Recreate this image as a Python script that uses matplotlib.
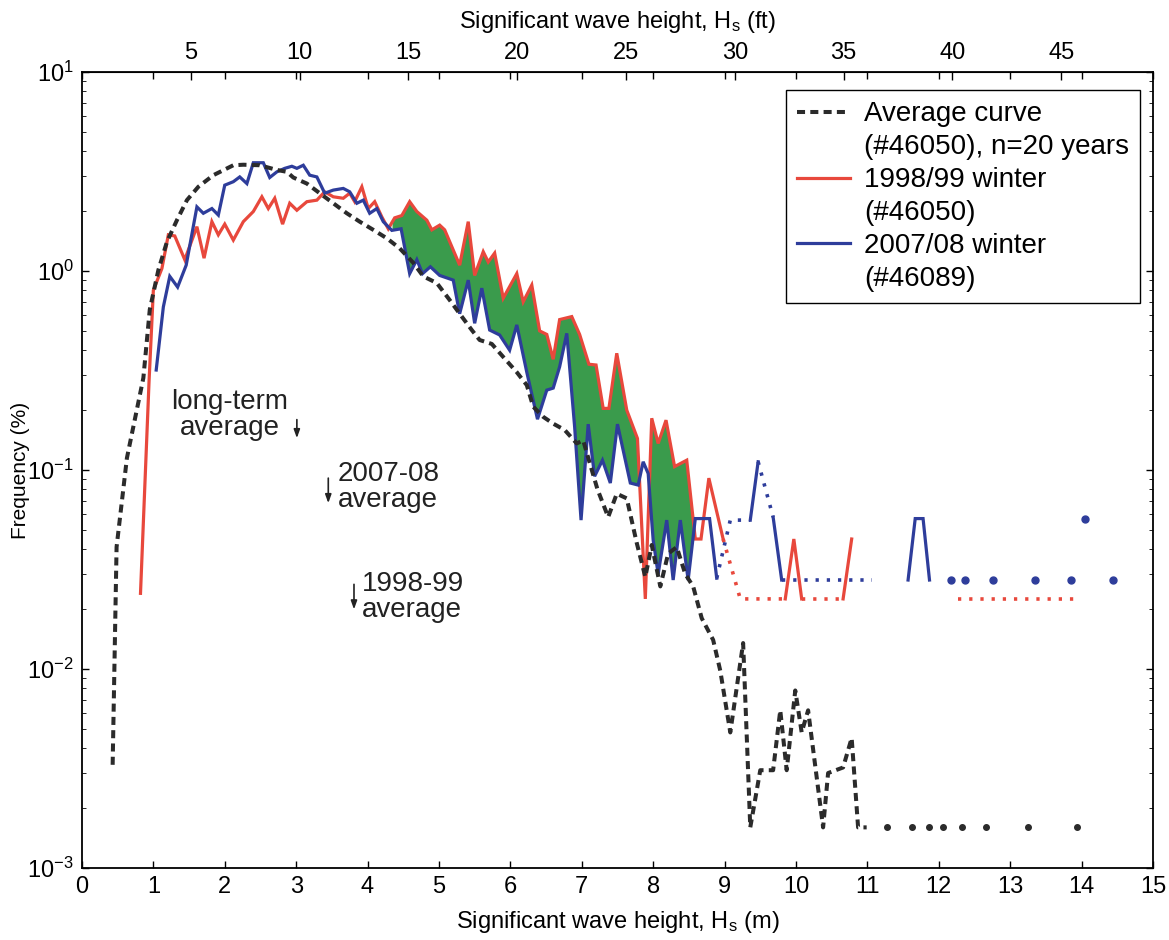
# Wave height frequency: 20-yr average vs two winters, buoys #46050 / #46089
import matplotlib

matplotlib.use("Agg")
import matplotlib.pyplot as plt
import numpy as np
from matplotlib.lines import Line2D

# ---- data (Hs in m, frequency in %) ----
avg_x = [0.43, 0.485, 0.63, 0.86, 0.95, 1.07, 1.19, 1.33, 1.47, 1.63, 1.84,
         2.12, 2.26, 2.49, 2.73, 2.87, 2.96, 3.15, 3.33, 3.52, 3.71, 3.89,
         4.08, 4.27, 4.45, 4.64, 4.78, 4.97, 5.15, 5.32, 5.46, 5.57, 5.74,
         5.90, 6.09, 6.23, 6.32, 6.46, 6.60, 6.76, 6.93, 7.02, 7.10, 7.22,
         7.37, 7.49, 7.63, 7.77, 7.89, 7.98, 8.10, 8.21, 8.33, 8.45, 8.56,
         8.68, 8.84, 8.94, 9.08, 9.26, 9.36, 9.50, 9.68, 9.78, 9.87, 9.99,
         10.08, 10.17, 10.38, 10.45, 10.66, 10.78, 10.87, 10.99]
avg_y = [0.0033, 0.041, 0.115, 0.29, 0.64, 1.01, 1.40, 1.80, 2.27, 2.65, 3.03,
         3.40, 3.42, 3.40, 3.22, 3.15, 2.95, 2.75, 2.46, 2.19, 1.95, 1.77,
         1.61, 1.46, 1.30, 1.10, 0.94, 0.87, 0.715, 0.59, 0.505, 0.45, 0.43,
         0.37, 0.31, 0.267, 0.208, 0.185, 0.171, 0.159, 0.136, 0.141, 0.112, 0.08,
         0.058, 0.076, 0.072, 0.043, 0.029, 0.042, 0.026, 0.038, 0.041, 0.030, 0.026,
         0.018, 0.014, 0.0098, 0.0048, 0.0135, 0.0016, 0.0031, 0.0031, 0.0062, 0.0031, 0.0078,
         0.0048, 0.0062, 0.0016, 0.0030, 0.0032, 0.0045, 0.0016, 0.0016]
avg_dot_x = [11.27, 11.62, 11.87, 12.06, 12.32, 12.66, 13.25, 13.94]
avg_dot_y = [0.0016] * 8

red_x = [0.82, 0.94, 1.00, 1.12, 1.21, 1.30, 1.44, 1.61, 1.71, 1.82, 1.91,
         2.00, 2.12, 2.26, 2.40, 2.52, 2.61, 2.70, 2.81, 2.91, 3.01, 3.15,
         3.29, 3.40, 3.52, 3.66, 3.75, 3.82, 3.92, 4.01, 4.10, 4.20, 4.29,
         4.38, 4.48, 4.59, 4.69, 4.83, 4.90, 5.01, 5.08, 5.29, 5.41, 5.50,
         5.62, 5.69, 5.78, 5.90, 6.09, 6.18, 6.30, 6.41, 6.51, 6.60, 6.69,
         6.86, 6.97, 7.10, 7.20, 7.30, 7.38, 7.49, 7.63, 7.78, 7.89, 7.98,
         8.07, 8.18, 8.30, 8.47, 8.59, 8.67, 8.78, 8.98]
red_y = [0.024, 0.28, 0.80, 1.03, 1.52, 1.50, 1.14, 1.67, 1.16, 1.77, 1.52,
         1.72, 1.43, 1.77, 1.99, 2.36, 2.06, 2.32, 1.72, 2.19, 2.02, 2.23,
         2.27, 2.50, 2.36, 2.32, 2.46, 2.23, 2.65, 2.06, 2.23, 1.87, 1.63,
         1.85, 1.90, 2.23, 1.99, 1.80, 1.61, 1.70, 1.61, 1.07, 1.77, 0.95,
         1.25, 1.11, 1.23, 0.73, 0.97, 0.70, 0.85, 0.50, 0.48, 0.36, 0.57,
         0.59, 0.48, 0.34, 0.337, 0.204, 0.204, 0.386, 0.20, 0.144, 0.0225, 0.182,
         0.136, 0.178, 0.104, 0.112, 0.045, 0.045, 0.091, 0.045]
red_seg_x = [[9.85, 9.97, 10.08], [10.66, 10.78]]
red_seg_y = [[0.0225, 0.045, 0.0225], [0.0225, 0.045]]
red_gap_x = [[8.98, 9.22, 9.85], [10.08, 10.66], [12.27, 13.91]]
red_gap_y = [[0.045, 0.0225, 0.0225], [0.0225, 0.0225], [0.0225, 0.0225]]

blue_x = [1.04, 1.14, 1.23, 1.34, 1.46, 1.61, 1.70, 1.82, 1.91, 2.00, 2.12,
          2.21, 2.31, 2.40, 2.54, 2.63, 2.73, 2.84, 2.94, 3.01, 3.10, 3.19,
          3.29, 3.40, 3.52, 3.66, 3.75, 3.85, 3.94, 4.03, 4.13, 4.22, 4.34,
          4.47, 4.59, 4.69, 4.77, 4.88, 5.01, 5.20, 5.29, 5.41, 5.50, 5.60,
          5.71, 5.85, 5.99, 6.09, 6.23, 6.38, 6.51, 6.60, 6.69, 6.79, 6.90,
          6.99, 7.09, 7.18, 7.29, 7.40, 7.50, 7.68, 7.79, 7.86, 7.93, 8.00,
          8.07, 8.19, 8.28, 8.38, 8.49, 8.59, 8.79, 8.89]
blue_y = [0.318, 0.66, 0.94, 0.83, 1.07, 2.10, 1.95, 2.06, 1.91, 2.70, 2.81,
          2.97, 2.75, 3.50, 3.50, 2.95, 3.15, 3.28, 3.36, 3.28, 3.40, 3.03,
          2.97, 2.46, 2.55, 2.60, 2.50, 2.19, 2.27, 1.95, 2.06, 1.77, 1.60,
          1.63, 0.97, 1.14, 0.97, 1.05, 0.95, 0.90, 0.61, 0.90, 0.546, 0.82,
          0.505, 0.477, 0.40, 0.536, 0.31, 0.18, 0.252, 0.258, 0.33, 0.486, 0.165,
          0.056, 0.17, 0.093, 0.112, 0.086, 0.17, 0.086, 0.084, 0.110, 0.096, 0.0445,
          0.030, 0.056, 0.028, 0.056, 0.028, 0.057, 0.057, 0.0286]
blue_seg_x = [[9.36, 9.47], [9.68, 9.80], [11.57, 11.67, 11.78, 11.87]]
blue_seg_y = [[0.056, 0.110], [0.058, 0.028], [0.028, 0.057, 0.057, 0.028]]
blue_gap_x = [[8.89, 9.08, 9.36], [9.47, 9.68], [9.80, 11.06]]
blue_gap_y = [[0.0286, 0.056, 0.056], [0.110, 0.058], [0.028, 0.028]]
blue_dot_x = [12.17, 12.37, 12.76, 13.35, 13.85, 14.05, 14.44]
blue_dot_y = [0.028, 0.028, 0.028, 0.028, 0.028, 0.057, 0.028]

FILL_RANGE = (4.35, 8.6)

BLACK = "#2b2b2b"
RED = "#e8483c"
BLUE = "#2e3d9b"
GREEN = "#3a9b4c"

NARROW = ["Liberation Sans Narrow", "Liberation Sans", "DejaVu Sans"]
REGULAR = ["Liberation Sans", "DejaVu Sans"]

plt.rcParams["font.family"] = NARROW
plt.rcParams["mathtext.fontset"] = "custom"
plt.rcParams["mathtext.rm"] = "Liberation Sans"
plt.rcParams["mathtext.it"] = "Liberation Sans"
plt.rcParams["mathtext.bf"] = "Liberation Sans"

fig = plt.figure(figsize=(11.69, 9.40), dpi=100)
ax = fig.add_axes([0.0701, 0.0766, 0.9162, 0.8468])
ax.set_yscale("log")
ax.set_xlim(0, 15)
ax.set_ylim(1e-3, 10)

# green band where the 1998/99 winter is above 2007/08
xg = np.linspace(FILL_RANGE[0], FILL_RANGE[1], 2000)
rg = 10 ** np.interp(xg, red_x, np.log10(red_y))
bg = 10 ** np.interp(xg, blue_x, np.log10(blue_y))
ax.fill_between(xg, bg, rg, where=rg > bg, interpolate=True,
                color=GREEN, lw=0, zorder=1)

dash_kw = dict(color=BLACK, lw=2.9, dashes=(2.0, 1.3))
ax.plot(avg_x, avg_y, zorder=4, **dash_kw)
ax.plot(avg_dot_x, avg_dot_y, "o", color=BLACK, ms=4, zorder=4)

line_kw = dict(lw=2.3, solid_joinstyle="miter", zorder=3)
dot_kw = dict(lw=2.6, dashes=(0.9, 2.2), zorder=3)
ax.plot(red_x, red_y, color=RED, **line_kw)
for sx, sy in zip(red_seg_x, red_seg_y):
    ax.plot(sx, sy, color=RED, **line_kw)
for gx, gy in zip(red_gap_x, red_gap_y):
    ax.plot(gx, gy, color=RED, **dot_kw)

ax.plot(blue_x, blue_y, color=BLUE, **line_kw)
for sx, sy in zip(blue_seg_x, blue_seg_y):
    ax.plot(sx, sy, color=BLUE, **line_kw)
for gx, gy in zip(blue_gap_x, blue_gap_y):
    ax.plot(gx, gy, color=BLUE, **dot_kw)
ax.plot(blue_dot_x, blue_dot_y, "o", color=BLUE, ms=5, zorder=3)

# axes, ticks
ax.set_xticks(range(0, 16))
ax.tick_params(axis="both", which="major", direction="in", length=5,
               width=1, labelsize=17, top=True, right=True, pad=6)
ax.tick_params(axis="y", which="minor", direction="in", length=3,
               right=True)
for s in ax.spines.values():
    s.set_linewidth(1.3)
ax.set_xlabel("Significant wave height, H$_\\mathregular{s}$ (m)",
              fontsize=17, labelpad=8)
ax.set_ylabel("Frequency (%)", fontsize=15, family=REGULAR, labelpad=-2)

sec = ax.secondary_xaxis("top", functions=(lambda m: m / 0.3048,
                                           lambda f: f * 0.3048))
sec.set_xticks(range(5, 50, 5))
sec.tick_params(direction="in", length=6, width=1, labelsize=17, pad=6)
sec.set_xlabel("Significant wave height, H$_\\mathregular{s}$ (ft)",
               fontsize=17, labelpad=10)

# legend: the handle sits on the first line of each two-line label
blank = Line2D([], [], alpha=0)
handles = [Line2D([], [], **dash_kw), blank,
           Line2D([], [], color=RED, lw=2.3), blank,
           Line2D([], [], color=BLUE, lw=2.3), blank]
labels = ["Average curve", "(#46050), n=20 years",
          "1998/99 winter", "(#46050)",
          "2007/08 winter", "(#46089)"]
leg = ax.legend(handles, labels, loc="upper right",
                bbox_to_anchor=(0.988, 0.977), fancybox=False,
                edgecolor="black", framealpha=1, handlelength=1.9,
                handletextpad=0.5, labelspacing=0.25, borderpad=0.4,
                borderaxespad=0, prop={"family": REGULAR, "size": 20})
leg.get_frame().set_linewidth(1.0)

# mean wave height markers
txt = dict(fontsize=20, family=REGULAR, color="#222222", linespacing=1.0)
arr = dict(arrowstyle="-|>,head_length=0.5,head_width=0.18",
           color="#222222", lw=1.2)
ax.text(2.07, 0.19, "long-term\naverage", ha="center", va="center",
        multialignment="center", **txt)
ax.annotate("", xy=(3.01, 0.140), xytext=(3.01, 0.185), arrowprops=arr)
ax.text(3.58, 0.082, "2007-08\naverage", ha="left", va="center",
        multialignment="left", **txt)
ax.annotate("", xy=(3.45, 0.066), xytext=(3.45, 0.094), arrowprops=arr)
ax.text(3.92, 0.023, "1998-99\naverage", ha="left", va="center",
        multialignment="left", **txt)
ax.annotate("", xy=(3.81, 0.0193), xytext=(3.81, 0.0275), arrowprops=arr)

fig.savefig("out.png", dpi=100)
